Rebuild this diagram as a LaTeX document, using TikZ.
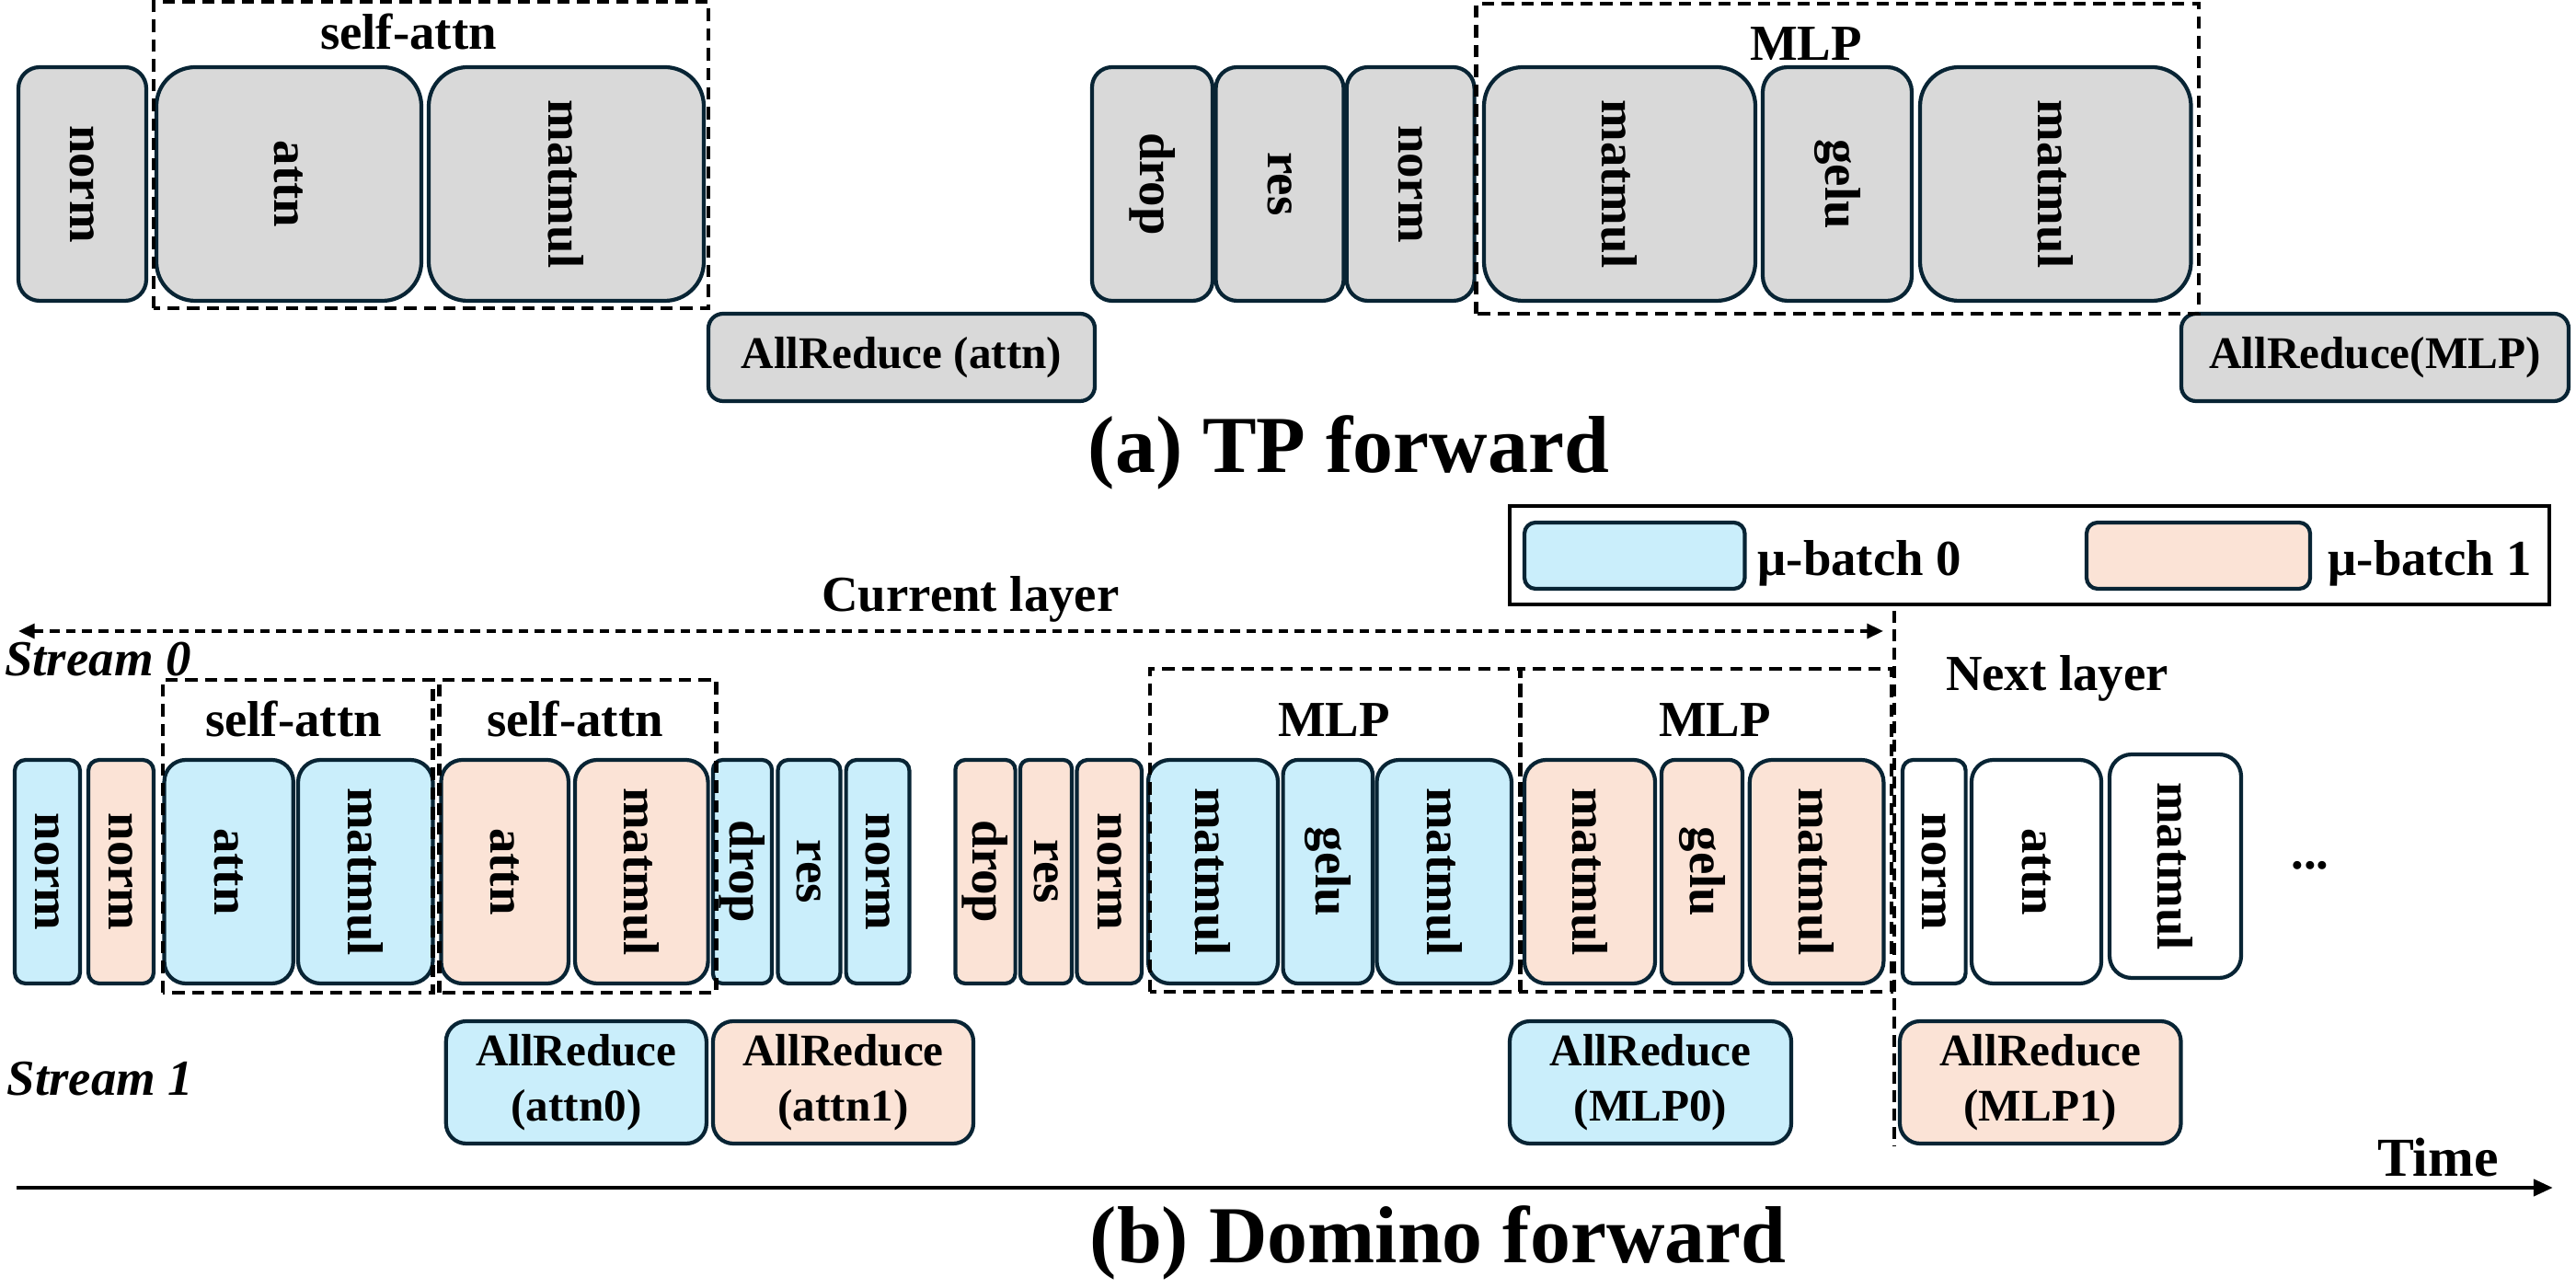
\documentclass[tikz,border=0pt]{standalone}
\usepackage{fontspec}
\setmainfont{Liberation Serif}
\usetikzlibrary{arrows.meta}
\definecolor{mbzero}{HTML}{CAEEFB}
\definecolor{mbone}{HTML}{FBE3D6}
\definecolor{tpgray}{HTML}{D9D9D9}
\definecolor{edgeblue}{HTML}{082434}
\newcommand{\lblfont}{\fontsize{15.6}{18}\selectfont\bfseries}
\newcommand{\arfont}{\fontsize{14}{17}\selectfont\bfseries}
\newcommand{\titlefont}{\fontsize{25}{30}\selectfont\bfseries}

\begin{document}
\begin{tikzpicture}
\tikzstyle{blk}=[draw=edgeblue, line width=1.2pt, inner sep=0pt, font=\lblfont, rotate=-90]
\tikzstyle{arbox}=[draw=edgeblue, line width=1.2pt, inner sep=0pt, font=\arfont, align=center]
\tikzstyle{grp}=[line width=1.4pt, dash pattern=on 3.8pt off 2.3pt]
\tikzstyle{txt}=[inner sep=0pt, font=\lblfont, anchor=base]

\useasboundingbox (0,0) rectangle (28,14);

% (a) TP forward
\foreach \nm/\xa/\xb/\lbl in {na/0.20/1.59/norm, aa/1.70/4.58/attn, ma/4.66/7.65/matmul,
  dra/11.87/13.18/drop, rsa/13.215/14.605/res, nb/14.637/16.026/norm,
  mb/16.13/19.08/matmul, ga/19.16/20.78/gelu, mc/20.87/23.815/matmul}
{
  \pgfmathsetmacro{\w}{\xb-\xa}
  \pgfmathsetmacro{\r}{min(\w,2.54)/6}
  \node[blk, fill=tpgray, minimum width=2.54cm, minimum height=\w cm, rounded corners=\r cm] (\nm) at ({(\xa+\xb)/2},12.0) {\lbl};
}
\node[arbox, fill=tpgray, minimum width=4.20cm, minimum height=0.95cm, rounded corners=0.16cm] (ara) at (9.80,10.115) {AllReduce (attn)};
\node[arbox, fill=tpgray, minimum width=4.21cm, minimum height=0.95cm, rounded corners=0.16cm] (arb) at (25.815,10.115) {AllReduce(MLP)};

\draw[grp] (1.67,10.65) rectangle (7.70,13.98);
\draw[grp] (16.047,10.59) rectangle (23.90,13.96);
\node[txt] (saa) at (4.44,13.46) {self-attn};
\node[txt] (mlpa) at (19.63,13.34) {MLP};

\node[txt, font=\titlefont] (ttla) at (14.66,8.86) {(a) TP forward};

% (b) Domino forward
\foreach \nm/\xa/\xb/\fc/\lbl in {n0a/0.16/0.87/mbzero/norm, n1a/0.96/1.67/mbone/norm,
  a0/1.786/3.188/mbzero/attn, m0/3.24/4.705/mbzero/matmul,
  a1/4.795/6.179/mbone/attn, m1/6.25/7.696/mbone/matmul,
  d0/7.75/8.39/mbzero/drop, r0/8.455/9.134/mbzero/res, n0b/9.196/9.884/mbzero/norm,
  d1/10.384/11.036/mbone/drop, r1/11.09/11.65/mbone/res, n1b/11.705/12.41/mbone/norm,
  mm0a/12.48/13.89/mbzero/matmul, g0/13.946/14.92/mbzero/gelu, mm0b/14.964/16.43/mbzero/matmul,
  mm1a/16.57/17.99/mbone/matmul, g1/18.06/18.94/mbone/gelu, mm1b/19.018/20.474/mbone/matmul,
  nx/20.68/21.366/white/norm, ax/21.43/22.84/white/attn}
{
  \pgfmathsetmacro{\w}{\xb-\xa}
  \pgfmathsetmacro{\r}{min(\w,2.43)/6}
  \node[blk, fill=\fc, minimum width=2.43cm, minimum height=\w cm, rounded corners=\r cm] (\nm) at ({(\xa+\xb)/2},4.525) {\lbl};
}
\node[blk, fill=white, minimum width=2.43cm, minimum height=1.43cm, rounded corners=0.24cm] (mx) at (23.645,4.585) {matmul};
\node[txt] (dots) at (25.11,4.55) {...};

\node[arbox, fill=mbzero, minimum width=2.831cm, minimum height=1.33cm, rounded corners=0.22cm] (ar0) at (6.2635,2.235) {AllReduce\\(attn0)};
\node[arbox, fill=mbone, minimum width=2.83cm, minimum height=1.33cm, rounded corners=0.22cm] (ar1) at (9.165,2.235) {AllReduce\\(attn1)};
\node[arbox, fill=mbzero, minimum width=3.06cm, minimum height=1.33cm, rounded corners=0.22cm] (arm0) at (17.94,2.235) {AllReduce\\(MLP0)};
\node[arbox, fill=mbone, minimum width=3.055cm, minimum height=1.33cm, rounded corners=0.22cm] (arm1) at (22.1775,2.235) {AllReduce\\(MLP1)};

\draw[grp] (1.77,3.21) rectangle (4.705,6.61);
\draw[grp] (4.777,3.21) rectangle (7.786,6.61);
\draw[grp] (12.50,3.22) rectangle (16.527,6.73);
\draw[grp] (16.527,3.22) rectangle (20.56,6.73);
\node[txt] (sab0) at (3.19,5.99) {self-attn};
\node[txt] (sab1) at (6.25,5.99) {self-attn};
\node[txt] (mlpb0) at (14.50,5.99) {MLP};
\node[txt] (mlpb1) at (18.64,5.99) {MLP};

% legend
\node[draw, line width=1.2pt, minimum width=11.3cm, minimum height=1.07cm] (lgd) at (22.06,7.965) {};
\node[arbox, fill=mbzero, minimum width=2.395cm, minimum height=0.72cm, rounded corners=0.12cm] (lgz) at (17.7675,7.96) {};
\node[arbox, fill=mbone, minimum width=2.43cm, minimum height=0.72cm, rounded corners=0.12cm] (lgo) at (23.895,7.96) {};
\node[txt, anchor=base west] (lgzt) at (19.10,7.74) {μ-batch 0};
\node[txt, anchor=base west] (lgot) at (25.30,7.74) {μ-batch 1};

% layers and streams
\coordinate (lyrL) at (0.20,7.14);
\coordinate (lyrR) at (20.47,7.14);
\draw[line width=1pt, dash pattern=on 3pt off 2pt, {Triangle[length=5pt,width=4.5pt]}-{Triangle[length=5pt,width=4.5pt]}] (lyrL) -- (lyrR);
\node[txt] (curl) at (10.55,7.35) {Current layer};
\node[txt] (nxtl) at (22.36,6.49) {Next layer};
\coordinate (sepT) at (20.59,7.36);
\coordinate (sepB) at (20.59,1.55);
\draw[line width=1.1pt, dash pattern=on 3.7pt off 2pt] (sepT) -- (sepB);

\node[txt, anchor=base west, font=\lblfont\itshape] (st0) at (0.045,6.65) {Stream 0};
\node[txt, anchor=base west, font=\lblfont\itshape] (st1) at (0.07,2.09) {Stream 1};

\coordinate (tL) at (0.18,1.09);
\coordinate (tR) at (27.75,1.09);
\draw[line width=1.4pt, -{Triangle[length=6pt,width=5pt]}] (tL) -- (tR);
\node[txt, font=\fontsize{17}{20}\selectfont\bfseries] (time) at (26.50,1.21) {Time};

\node[txt, font=\titlefont] (ttlb) at (15.63,0.28) {(b) Domino forward};

\end{tikzpicture}
\end{document}
